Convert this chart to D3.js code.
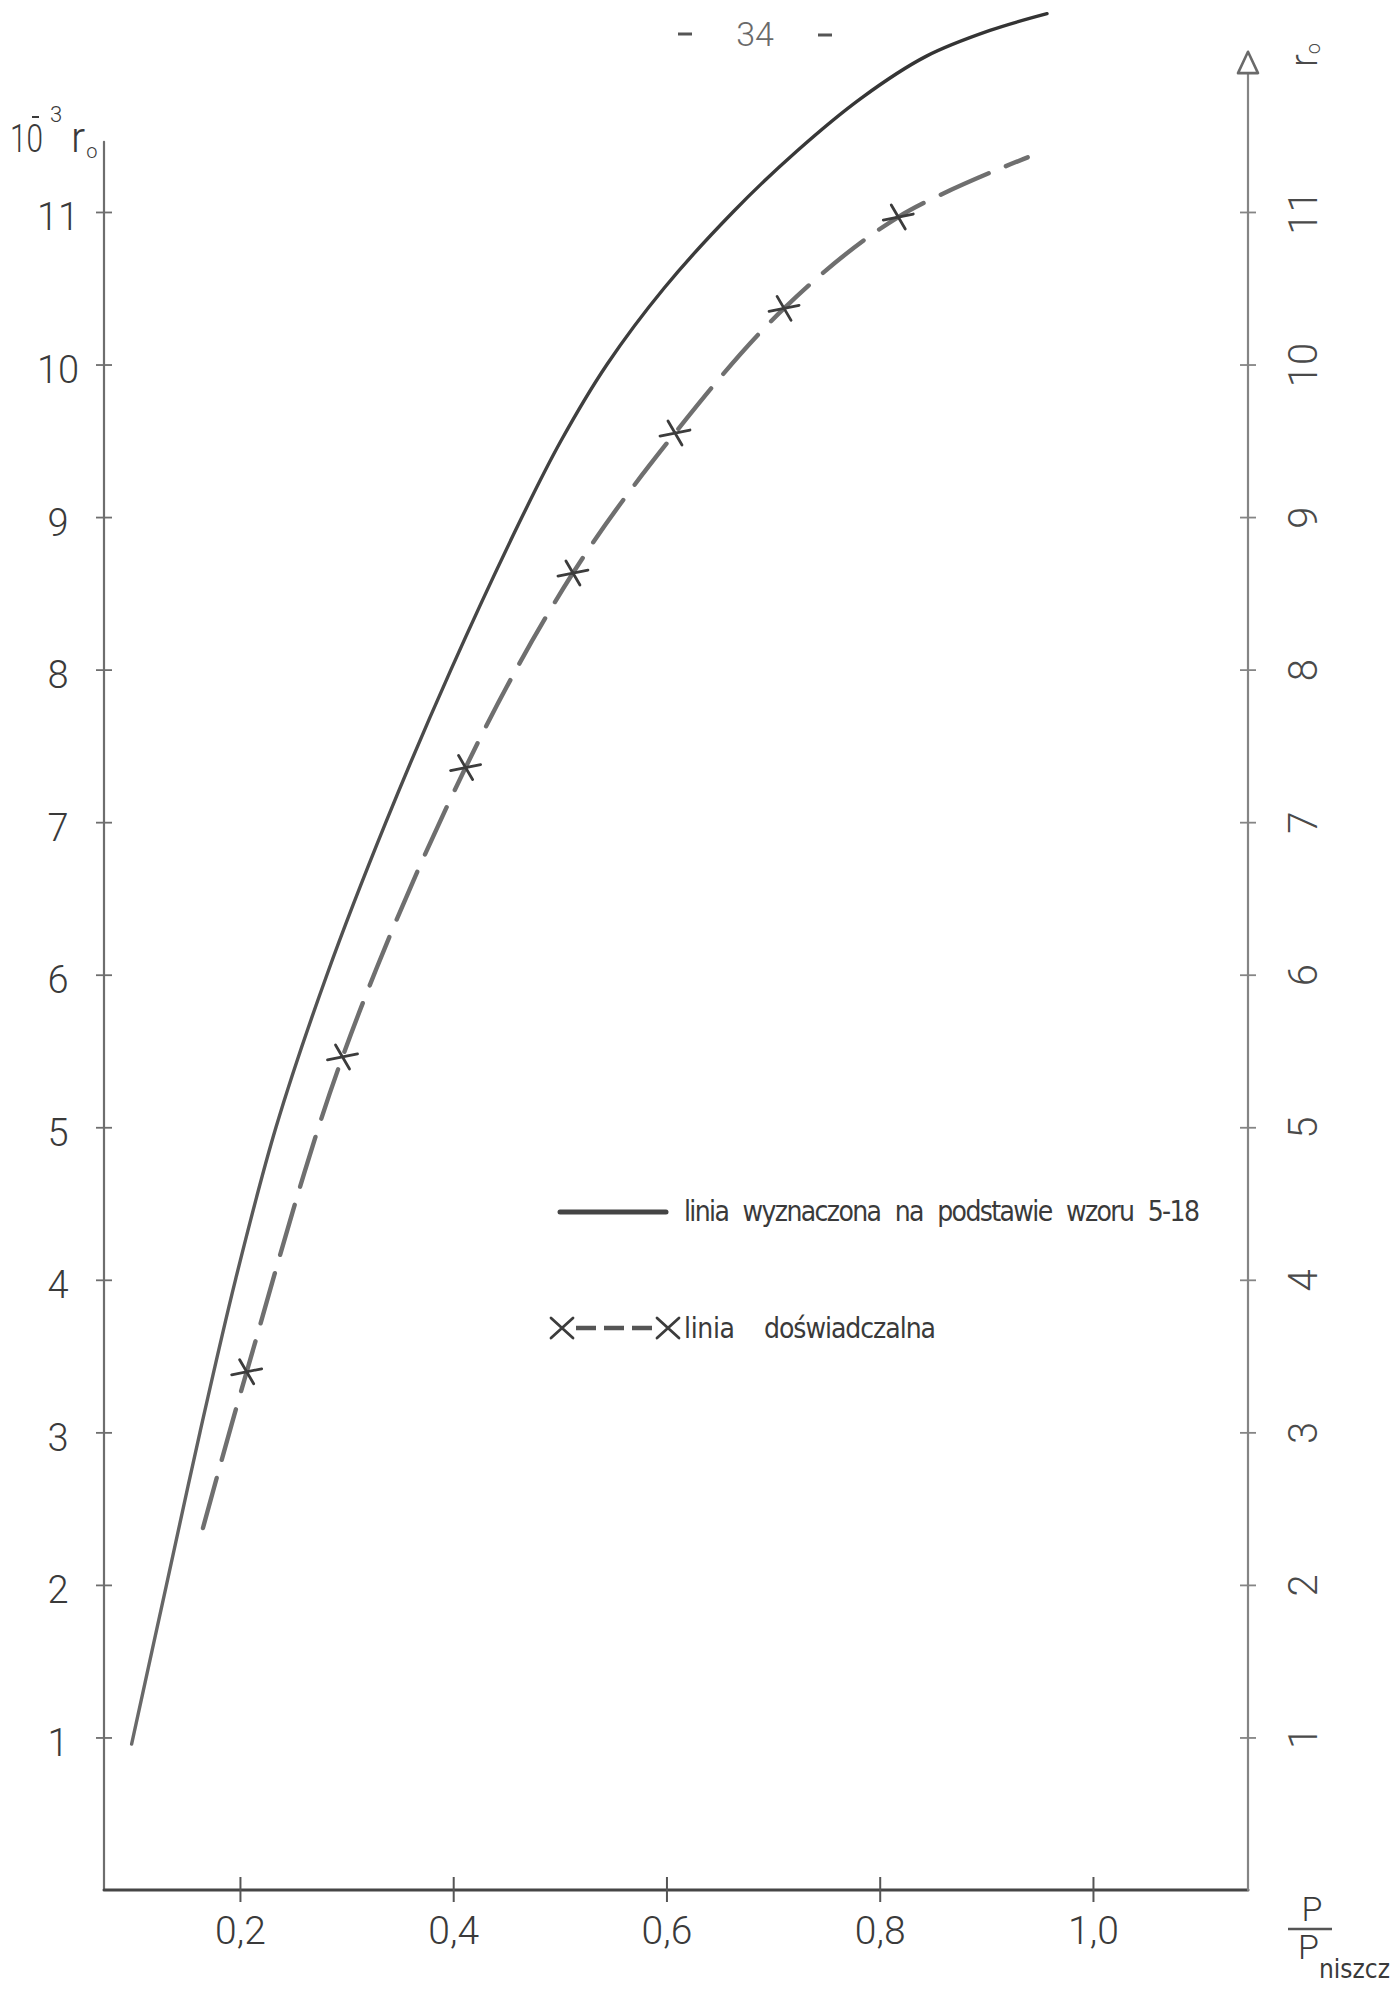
<!DOCTYPE html>
<html>
<head>
<meta charset="utf-8">
<script src="https://cdn.jsdelivr.net/npm/d3@7"></script>
<style>
  html, body { margin: 0; padding: 0; background: #ffffff; }
  svg { display: block; }
</style>
</head>
<body>
<script>
// Curve computed from formula 5-18: x = P / P_niszcz, y = 10^-3 r0
const theoryX = [0.0984, 0.1311, 0.1625, 0.1958, 0.2338, 0.2816, 0.3369, 0.3979, 0.4645,
                 0.5011, 0.5442, 0.5977, 0.6624, 0.7224, 0.7834, 0.8434, 0.9034, 0.9569];
const theoryY = [0.957, 2.0, 3.0, 4.0, 5.0, 6.0, 7.0, 8.0, 9.0,
                 9.5, 10.0, 10.5, 11.0, 11.4, 11.75, 12.02, 12.19, 12.30];

// Measured points (crosses) of the experimental line
const expX = [0.2063, 0.2962, 0.4116, 0.5123, 0.608, 0.7103, 0.8174];
const expY = [3.397, 5.461, 7.358, 8.633, 9.551, 10.368, 10.967];
// Ends of the dashed experimental line
const expLineStart = [0.1653, 2.373];
const expLineEnd = [0.9388, 11.358];

// Axis ticks and extents
const xTicks = [0.2, 0.4, 0.6, 0.8, 1.0];
const yTicks = [1, 2, 3, 4, 5, 6, 7, 8, 9, 10, 11];
const xDomain = [0.0725, 1.1454];
const yDomain = [0, 12.05];
const leftAxisTop = 11.46;
const rightArrowBase = 11.91;

const legendLabels = ["linia wyznaczona na podstawie wzoru 5-18", "linia", "doświadczalna"];
const pageNumber = "34";

const W = 1397, H = 1990;
const FONT_NUM = 'Roboto, "Liberation Sans", sans-serif';
const FONT_TXT = '"Liberation Sans Narrow", "DejaVu Sans Condensed", "Roboto Condensed", Roboto, sans-serif';
const INK = "#3a3a3a";

const svg = d3.select("body").append("svg")
  .attr("width", W).attr("height", H)
  .style("font-family", FONT_NUM);

svg.append("rect").attr("width", W).attr("height", H).attr("fill", "#ffffff");

const x = d3.scaleLinear().domain(xDomain).range([104, 1248]);
const y = d3.scaleLinear().domain(yDomain).range([1890, 51.8]);

const commaFmt = d => d3.format(".1f")(d).replace(".", ",");

// ink of the drawn curve fades slightly towards the bottom
const defs = svg.append("defs");
const grad = defs.append("linearGradient").attr("id", "theoryInk")
  .attr("gradientUnits", "userSpaceOnUse")
  .attr("x1", 0).attr("y1", y(12.3)).attr("x2", 0).attr("y2", y(1));
grad.append("stop").attr("offset", 0).attr("stop-color", "#333333");
grad.append("stop").attr("offset", 1).attr("stop-color", "#6a6a6a");

// ---- axes frame ----
const frame = svg.append("g").attr("fill", "none").attr("stroke-linecap", "round");
frame.append("line")
  .attr("x1", x(xDomain[0])).attr("x2", x(xDomain[0]))
  .attr("y1", y(leftAxisTop)).attr("y2", y(0))
  .attr("stroke", "#6e6e6e").attr("stroke-width", 2.2);
frame.append("line")
  .attr("x1", x(xDomain[0])).attr("x2", x(xDomain[1]))
  .attr("y1", y(0)).attr("y2", y(0))
  .attr("stroke", "#454545").attr("stroke-width", 3);
frame.append("line")
  .attr("x1", x(xDomain[1])).attr("x2", x(xDomain[1]))
  .attr("y1", y(0)).attr("y2", y(rightArrowBase))
  .attr("stroke", "#858585").attr("stroke-width", 2.2);
// open arrow head on the right axis
const ax = x(xDomain[1]), aTip = y(yDomain[1]), aBase = y(rightArrowBase);
frame.append("path")
  .attr("d", `M${ax},${aTip} L${ax + 10},${aBase} L${ax - 10},${aBase} Z`)
  .attr("fill", "#ffffff").attr("stroke", "#6a6a6a").attr("stroke-width", 2.6)
  .attr("stroke-linejoin", "round");

// ---- left axis ----
const gLeft = svg.append("g").attr("transform", `translate(${x(xDomain[0])},0)`)
  .call(d3.axisLeft(y).tickValues(yTicks).tickSize(8).tickFormat(d3.format("d")));
gLeft.select(".domain").remove();
gLeft.selectAll(".tick line").attr("x1", 8).attr("stroke", "#6e6e6e").attr("stroke-width", 1.8);
gLeft.selectAll(".tick text")
  .attr("x", -46).attr("dy", 0).attr("y", 18)
  .attr("text-anchor", "middle")
  .attr("font-size", 38).attr("font-weight", 300)
  .attr("font-family", FONT_NUM).attr("fill", INK);

// ---- right axis (labels turned) ----
const gRight = svg.append("g").attr("transform", `translate(${x(xDomain[1])},0)`)
  .call(d3.axisRight(y).tickValues(yTicks).tickSize(8).tickFormat(d3.format("d")));
gRight.select(".domain").remove();
gRight.selectAll(".tick line").attr("x1", -8).attr("stroke", "#858585").attr("stroke-width", 1.8);
gRight.selectAll(".tick text")
  .attr("x", 0).attr("dy", 0).attr("y", 0)
  .attr("transform", "translate(55,0) rotate(-90)")
  .attr("text-anchor", "middle").attr("dominant-baseline", "central")
  .attr("font-size", 40).attr("font-weight", 300)
  .attr("font-family", FONT_NUM).attr("fill", "#4a4a4a");

// ---- bottom axis ----
const gBottom = svg.append("g").attr("transform", `translate(0,${y(0)})`)
  .call(d3.axisBottom(x).tickValues(xTicks).tickSize(12).tickFormat(commaFmt));
gBottom.select(".domain").remove();
gBottom.selectAll(".tick line").attr("y1", -13).attr("stroke", "#555").attr("stroke-width", 2);
gBottom.selectAll(".tick text")
  .attr("y", 54).attr("dy", 0)
  .attr("font-size", 39).attr("font-weight", 300)
  .attr("font-family", FONT_NUM).attr("fill", INK);

// ---- axis titles ----
const yTitle = svg.append("g").attr("fill", INK)
  .attr("font-family", FONT_NUM).attr("font-weight", 300);
yTitle.append("text").attr("x", 10).attr("y", 152).attr("font-size", 39)
  .attr("textLength", 33).attr("lengthAdjust", "spacingAndGlyphs").text("10");
yTitle.append("line").attr("x1", 32).attr("x2", 39).attr("y1", 117).attr("y2", 117)
  .attr("stroke", INK).attr("stroke-width", 2);
yTitle.append("text").attr("x", 50).attr("y", 122).attr("font-size", 22).text("3");
const yTitleR = yTitle.append("text").attr("x", 71).attr("y", 152).attr("font-size", 42);
yTitleR.append("tspan").text("r");
yTitleR.append("tspan").attr("font-size", 20).attr("dx", 1).attr("dy", 6).text("o");

const rTitle = svg.append("text").attr("transform", "translate(1317,67) rotate(-90)")
  .attr("fill", "#4a4a4a").attr("font-family", FONT_NUM).attr("font-weight", 300)
  .attr("font-size", 38);
rTitle.append("tspan").text("r");
rTitle.append("tspan").attr("font-size", 20).attr("dy", 3).text("o");

const xTitle = svg.append("g").attr("fill", INK).attr("font-family", FONT_NUM).attr("font-weight", 300);
xTitle.append("text").attr("x", 1312).attr("y", 1921).attr("text-anchor", "middle")
  .attr("font-size", 34).text("P");
xTitle.append("line").attr("x1", 1288).attr("x2", 1332).attr("y1", 1929).attr("y2", 1929)
  .attr("stroke", "#555").attr("stroke-width", 2.4);
xTitle.append("text").attr("x", 1298).attr("y", 1959).attr("font-size", 34).text("P");
xTitle.append("text").attr("x", 1319).attr("y", 1978).attr("font-size", 26)
  .attr("font-family", FONT_TXT).attr("font-weight", 400).text("niszcz");

// ---- page number ----
const pg = svg.append("g");
pg.append("text").attr("x", 755).attr("y", 46).attr("text-anchor", "middle")
  .attr("font-size", 34).attr("font-weight", 300).attr("fill", "#6a6a6a")
  .attr("font-family", FONT_NUM).text(pageNumber);
pg.append("line").attr("x1", 678).attr("x2", 692).attr("y1", 34).attr("y2", 34)
  .attr("stroke", "#555").attr("stroke-width", 3);
pg.append("line").attr("x1", 818).attr("x2", 832).attr("y1", 35).attr("y2", 35)
  .attr("stroke", "#555").attr("stroke-width", 3);

// ---- curves ----
const line = d3.line()
  .x(d => x(d[0])).y(d => y(d[1]))
  .curve(d3.curveCatmullRom.alpha(0.5));

const theory = theoryX.map((v, i) => [v, theoryY[i]]);
svg.append("path").datum(theory)
  .attr("d", line)
  .attr("fill", "none").attr("stroke", "url(#theoryInk)").attr("stroke-width", 3.4)
  .attr("stroke-linecap", "round");

const expPts = expX.map((v, i) => [v, expY[i]]);
const expLine = [expLineStart, ...expPts, expLineEnd];
svg.append("path").datum(expLine)
  .attr("d", line)
  .attr("fill", "none").attr("stroke", "#6f6f6f").attr("stroke-width", 4.4)
  .attr("stroke-linecap", "round").attr("stroke-dasharray", "52 19");

// crosses on the measured points
const crossPath = "M-15,3 L15,-3 M-7,-12 L7,12";
svg.append("g").selectAll("path.cross").data(expPts).join("path")
  .attr("class", "cross")
  .attr("transform", d => `translate(${x(d[0])},${y(d[1])})`)
  .attr("d", crossPath)
  .attr("fill", "none").attr("stroke", "#3c3c3c").attr("stroke-width", 2.8)
  .attr("stroke-linecap", "round");

// ---- legend ----
const lg = svg.append("g").attr("font-family", FONT_TXT).attr("fill", INK);
lg.append("line").attr("x1", 560).attr("x2", 666).attr("y1", 1212).attr("y2", 1212)
  .attr("stroke", "#444").attr("stroke-width", 5).attr("stroke-linecap", "round");
lg.append("text").attr("x", 684).attr("y", 1221).attr("font-size", 28)
  .attr("textLength", 516).attr("lengthAdjust", "spacing")
  .attr("word-spacing", 8)
  .text(legendLabels[0]);

lg.append("line").attr("x1", 576).attr("x2", 656).attr("y1", 1328).attr("y2", 1328)
  .attr("stroke", "#555").attr("stroke-width", 4.5).attr("stroke-dasharray", "20 8");
const legendCross = "M-11,-10 L11,10 M-11,10 L11,-10";
[562, 668].forEach(cx => {
  lg.append("path").attr("transform", `translate(${cx},1328)`).attr("d", legendCross)
    .attr("fill", "none").attr("stroke", "#3c3c3c").attr("stroke-width", 2.8)
    .attr("stroke-linecap", "round");
});
lg.append("text").attr("x", 684).attr("y", 1338).attr("font-size", 28)
  .attr("textLength", 51).attr("lengthAdjust", "spacing").text(legendLabels[1]);
lg.append("text").attr("x", 764).attr("y", 1338).attr("font-size", 28)
  .attr("textLength", 172).attr("lengthAdjust", "spacing").text(legendLabels[2]);
</script>
</body>
</html>
